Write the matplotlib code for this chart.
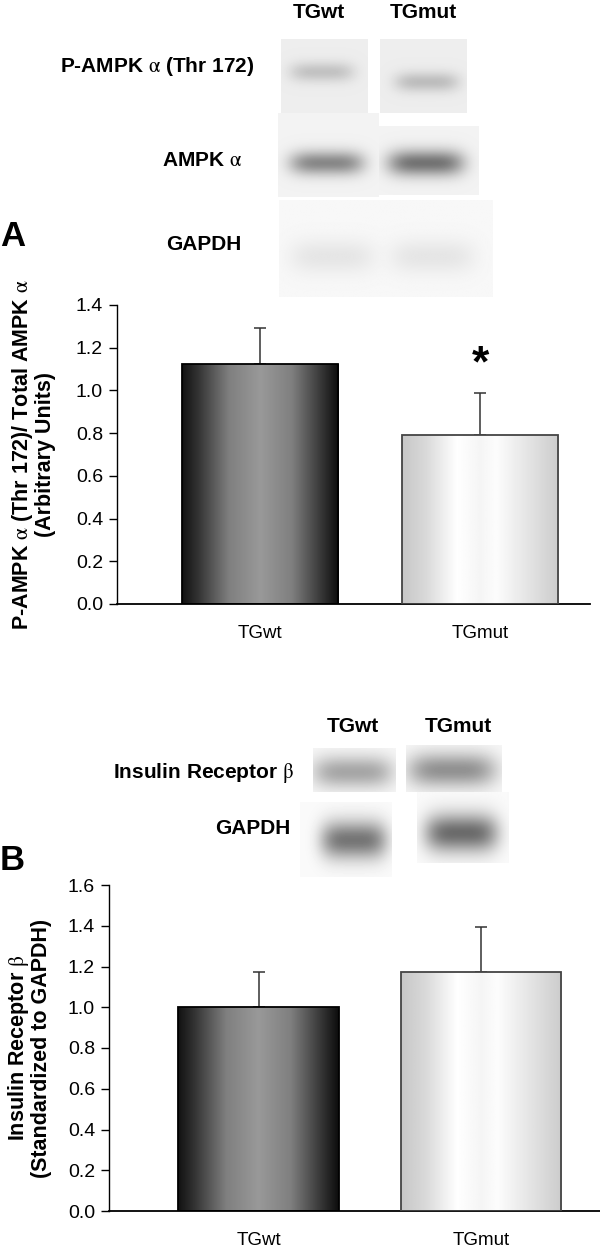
import numpy as np
import matplotlib
matplotlib.use('Agg')
import matplotlib.pyplot as plt

# Dados
grupos = ['TGwt', 'TGmut']
ampk_media = [1.124, 0.79]
ampk_erro = [0.166, 0.20]
ir_media = [1.0, 1.175]
ir_erro = [0.175, 0.22]
ampk_ticks = [0.0, 0.2, 0.4, 0.6, 0.8, 1.0, 1.2, 1.4]
ir_ticks = [0.0, 0.2, 0.4, 0.6, 0.8, 1.0, 1.2, 1.4, 1.6]

plt.rcParams['font.family'] = ['Liberation Sans', 'DejaVu Sans']
plt.rcParams['mathtext.fontset'] = 'stix'

W, H = 600, 1252
fig = plt.figure(figsize=(W / 100, H / 100), dpi=100)


def rect(x0, y0, x1, y1):
    # caixa em pixels -> coordenadas da figura
    return [x0 / W, 1 - y1 / H, (x1 - x0) / W, (y1 - y0) / H]


def blot(x0, y0, x1, y1, fundo, bandas):
    ax = fig.add_axes(rect(x0, y0, x1, y1))
    xs = np.arange(x0, x1) + 0.5
    ys = np.arange(y0, y1) + 0.5
    X, Y = np.meshgrid(xs, ys)
    img = np.full(X.shape, fundo)
    for cx, cy, w, h, prof in bandas:
        img -= prof * np.exp(-(np.abs(X - cx) / (w / 2)) ** 4 - ((Y - cy) / (h / 2)) ** 2)
    ax.imshow(img, cmap='gray', vmin=0, vmax=1, aspect='auto', interpolation='bilinear')
    ax.axis('off')


# gradientes das barras
pos_grad = [0.0, 0.1, 0.3, 0.5, 0.7, 0.9, 1.0]
cinza_escuro = [0.07, 0.2, 0.5, 0.6, 0.5, 0.2, 0.05]
pos_claro = [0.0, 0.15, 0.35, 0.5, 0.6, 0.75, 1.0]
cinza_claro = [0.78, 0.85, 1.0, 0.96, 0.99, 0.92, 0.8]


def barras(ax, medias, erros, largura):
    x = np.arange(len(medias))
    bars = ax.bar(x, medias, largura, facecolor='none', zorder=3)
    bars[0].set_edgecolor('black')
    bars[1].set_edgecolor('#444444')
    for b, (p, c) in zip(bars, [(pos_grad, cinza_escuro), (pos_claro, cinza_claro)]):
        b.set_linewidth(1.3)
        t = np.linspace(0, 1, 256)
        grad = np.interp(t, p, c)[None, :]
        im = ax.imshow(grad, cmap='gray', vmin=0, vmax=1, aspect='auto',
                       extent=[b.get_x(), b.get_x() + b.get_width(), 0, b.get_height()],
                       zorder=2)
        im.set_clip_path(b)
    ax.errorbar(x, medias, yerr=[np.zeros(len(erros)), erros], fmt='none',
                ecolor='#333333', elinewidth=1.1, capsize=4, capthick=1.1, zorder=1)
    return x


def estilo(ax, ticks):
    for s in ['top', 'right']:
        ax.spines[s].set_visible(False)
    ax.spines['left'].set_linewidth(1.0)
    ax.spines['bottom'].set_linewidth(1.3)
    ax.set_yticks(ticks)
    ax.set_yticklabels(['%.1f' % v for v in ticks])
    ax.set_ylim(0, ticks[-1])
    ax.tick_params(axis='y', direction='out', length=6, width=1, labelsize=14, pad=4)
    ax.tick_params(axis='x', length=0, labelsize=13.5, pad=15)
    ax.set_xticks(range(len(grupos)))
    ax.set_xticklabels(grupos)


# ---- Painel A ----
axA = fig.add_axes(rect(117, 305, 590, 604))
barras(axA, ampk_media, ampk_erro, 0.71)
estilo(axA, ampk_ticks)
axA.set_xlim(-0.65, 1.5)
axA.annotate('*', xy=(1, ampk_media[1] + ampk_erro[1]), xytext=(0, 20),
             textcoords='offset points', ha='center', va='center',
             fontsize=32, fontweight='bold')
fig.text(33 / W, 1 - 454.5 / H,
         'P-AMPK $\\mathrm{\\alpha}$ (Thr 172)/ Total AMPK $\\mathrm{\\alpha}$\n(Arbitrary Units)',
         rotation=90, ha='center', va='center', ma='center', fontsize=15.5,
         fontweight='bold', linespacing=1.0)

# ---- Painel B ----
axB = fig.add_axes(rect(109, 885, 600, 1211))
barras(axB, ir_media, ir_erro, 0.72)
estilo(axB, ir_ticks)
axB.set_xlim(-0.672, 1.535)
fig.text(29 / W, 1 - 1048 / H,
         'Insulin Receptor $\\mathrm{\\beta}$\n(Standardized to GAPDH)',
         rotation=90, ha='center', va='center', ma='center', fontsize=15.5,
         fontweight='bold', linespacing=1.05)

# ---- Western blots A ----
blot(281, 39, 368, 113, 0.93, [(322, 72, 64, 20, 0.17)])
blot(380, 39, 467, 113, 0.93, [(427, 82, 64, 20, 0.19)])
blot(278, 113, 379, 197, 0.95, [(327, 163, 74, 24, 0.42)])
blot(379, 126, 479, 195, 0.95, [(426, 163, 76, 26, 0.5)])
blot(279, 200, 492, 297, 0.97, [(332, 257, 84, 34, 0.07), (432, 257, 84, 34, 0.07)])

lab = dict(fontsize=15, fontweight='bold', va='center')
fig.text(319 / W, 1 - 12 / H, 'TGwt', ha='center', **lab)
fig.text(423 / W, 1 - 12 / H, 'TGmut', ha='center', **lab)
fig.text(254 / W, 1 - 66 / H, 'P-AMPK $\\mathrm{\\alpha}$ (Thr 172)', ha='right', **lab)
fig.text(242 / W, 1 - 160 / H, 'AMPK $\\mathrm{\\alpha}$', ha='right', **lab)
fig.text(241 / W, 1 - 245 / H, 'GAPDH', ha='right', **lab)
fig.text(0 / W, 1 - 236 / H, 'A', ha='left', va='center', fontsize=25, fontweight='bold')

# ---- Western blots B ----
blot(313, 748, 396, 792, 0.97, [(353, 772, 80, 32, 0.32)])
blot(406, 745, 502, 792, 0.97, [(452, 770, 88, 34, 0.4)])
blot(300, 802, 392, 877, 0.98, [(354, 840, 66, 38, 0.52)])
blot(417, 792, 508, 863, 0.98, [(461, 833, 72, 38, 0.56)])

fig.text(353 / W, 1 - 727 / H, 'TGwt', ha='center', **lab)
fig.text(458 / W, 1 - 727 / H, 'TGmut', ha='center', **lab)
fig.text(294 / W, 1 - 773 / H, 'Insulin Receptor $\\mathrm{\\beta}$', ha='right', **lab)
fig.text(290 / W, 1 - 828 / H, 'GAPDH', ha='right', **lab)
fig.text(0 / W, 1 - 861 / H, 'B', ha='left', va='center', fontsize=25, fontweight='bold')

fig.savefig('out.png', dpi=100, facecolor='white')
